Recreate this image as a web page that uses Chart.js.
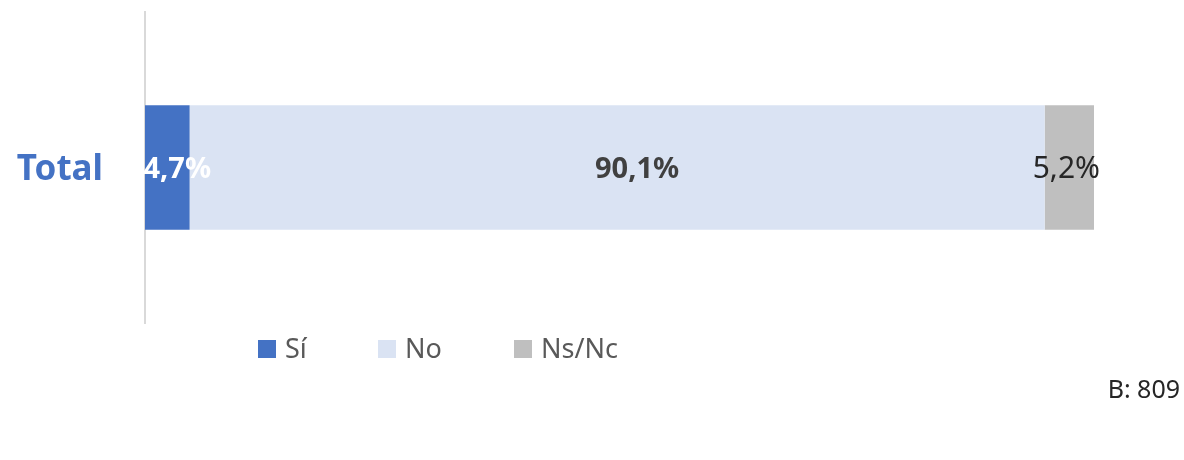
<!DOCTYPE html>
<html>
<head>
<meta charset="utf-8">
<script src="https://cdn.jsdelivr.net/npm/chart.js@4/dist/chart.umd.min.js"></script>
<style>
  html, body { margin: 0; padding: 0; background: #ffffff; }
  #wrap { width: 1184px; height: 460px; position: relative; }
</style>
</head>
<body>
<div id="wrap"><canvas id="c" width="1184" height="460"></canvas></div>
<script>
// ---- data ----
const categories = ["Total"];
const seriesNames = ["Sí", "No", "Ns/Nc"];
const siValues = [4.7];
const noValues = [90.1];
const nsncValues = [5.2];
const baseNote = "B: 809";

// ---- styles ----
const seriesColors = ["#4472C4", "#DAE3F3", "#BFBFBF"];
const labelStyles = [
  { color: "#FFFFFF", weight: "bold", size: 29, dx: 10 },
  { color: "#404040", weight: "bold", size: 29, dx: 20 },
  { color: "#262626", weight: "normal", size: 30, dx: -3 }
];
const legendX = [258, 378, 514];
const FONT = "'Noto Sans', 'Open Sans', sans-serif";

function fmt(v) { return v.toFixed(1).replace(".", ",") + "%"; }

const labelsPlugin = {
  id: "segLabels",
  afterDatasetsDraw(chart) {
    const ctx = chart.ctx;
    ctx.save();
    chart.data.datasets.forEach((ds, i) => {
      const meta = chart.getDatasetMeta(i);
      const st = labelStyles[i];
      meta.data.forEach((el, j) => {
        const p = el.getCenterPoint();
        ctx.font = st.weight + " " + st.size + "px " + FONT;
        ctx.fillStyle = st.color;
        ctx.textAlign = "center";
        ctx.textBaseline = "middle";
        ctx.fillText(fmt(ds.data[j]), p.x + st.dx, p.y + 2);
      });
    });
    ctx.restore();
  },
  afterDraw(chart) {
    const ctx = chart.ctx;
    ctx.save();
    // legend
    ctx.font = "27px " + FONT;
    ctx.textBaseline = "alphabetic";
    ctx.textAlign = "left";
    chart.data.datasets.forEach((ds, i) => {
      const x = legendX[i];
      ctx.fillStyle = ds.backgroundColor;
      ctx.fillRect(x, 340, 18, 18);
      ctx.fillStyle = "#595959";
      ctx.fillText(ds.label, x + 27, 358);
    });
    // base note
    ctx.font = "25px " + FONT;
    ctx.fillStyle = "#262626";
    ctx.textAlign = "right";
    ctx.fillText(baseNote, 1180, 398);
    ctx.restore();
  }
};

const valueSets = [siValues, noValues, nsncValues];

new Chart(document.getElementById("c"), {
  type: "bar",
  data: {
    labels: categories,
    datasets: seriesNames.map((name, i) => ({
      label: name,
      data: valueSets[i],
      backgroundColor: seriesColors[i],
      borderWidth: 0,
      categoryPercentage: 1.0,
      barPercentage: 0.4
    }))
  },
  options: {
    indexAxis: "y",
    responsive: false,
    animation: false,
    maintainAspectRatio: false,
    layout: { padding: { top: 12, bottom: 137, left: 0, right: 90 } },
    plugins: { legend: { display: false }, tooltip: { enabled: false } },
    scales: {
      x: { stacked: true, min: 0, max: 100, display: false },
      y: {
        stacked: true,
        grid: { display: false, drawTicks: false },
        border: { display: true, color: "#D9D9D9", width: 2 },
        ticks: {
          padding: 42,
          labelOffset: 3,
          color: "#4472C4",
          font: { family: FONT, size: 35, weight: "bold" }
        },
        afterFit(scale) {
          scale.width = 145;
          scale.paddingTop = 0;
          scale.paddingBottom = 0;
        }
      }
    }
  },
  plugins: [labelsPlugin]
});
</script>
</body>
</html>
